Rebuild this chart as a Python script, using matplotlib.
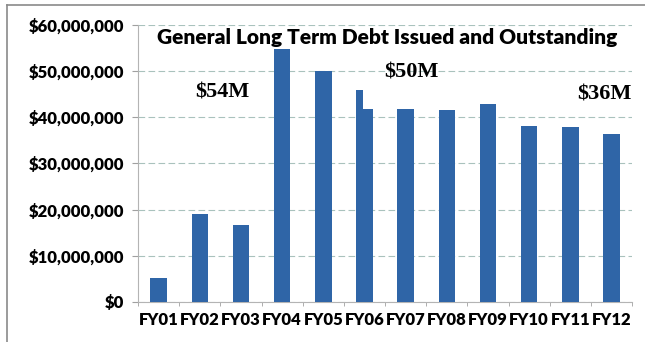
import numpy as np
from matplotlib import pyplot as plt
from matplotlib.lines import Line2D
from matplotlib.ticker import FuncFormatter

# Fiscal years and outstanding general long term debt (in millions of dollars)
categories = ['FY01', 'FY02', 'FY03', 'FY04', 'FY05', 'FY06',
              'FY07', 'FY08', 'FY09', 'FY10', 'FY11', 'FY12']
debt_millions = [5.3, 19.0, 16.7, 54.7, 50.0, 41.9,
                 41.8, 41.6, 42.8, 38.1, 37.9, 36.3]

# FY06 peaked mid-year before falling back
fy06_peak_millions = [45.9]

callouts = ['$54M', '$50M', '$36M']
callout_x = [1.54, 6.15, 10.83]
callout_y = [45.3, 49.6, 45.0]

y_ticks = [0, 10, 20, 30, 40, 50, 60]

BAR_COLOR = '#2f65a7'
GRID_COLOR = '#a9c2bd'
SANS = 'Lato'
SERIF = 'Liberation Serif'


def money_fmt(v, pos):
    return f"${v * 1e6:,.0f}"


def main():
    fig = plt.figure(figsize=(6.45, 3.42), dpi=100)
    ax = fig.add_axes([0.214, 0.117, 0.766, 0.81])

    x = np.arange(len(categories))
    width = 0.4
    ax.bar(x, debt_millions, width, color=BAR_COLOR, zorder=3)

    # narrow step on the left half of FY06
    i06 = categories.index('FY06')
    step_w = 0.17
    ax.bar(x[i06] - width / 2, fy06_peak_millions, step_w, align='edge',
           color=BAR_COLOR, zorder=3)

    ax.set_xlim(-0.5, len(categories) - 0.5)
    ax.set_ylim(0, 60)
    ax.set_yticks(y_ticks)
    ax.yaxis.set_major_formatter(FuncFormatter(money_fmt))
    ax.set_xticks(x)
    ax.set_xticklabels(categories)

    # small boundary ticks between categories, Excel style
    ax.set_xticks(np.arange(-0.5, len(categories)), minor=True)
    ax.tick_params(axis='x', which='major', length=0, pad=7)
    ax.tick_params(axis='x', which='minor', length=3, color='#a0a0a0')
    ax.tick_params(axis='y', length=4, color='#a0a0a0', pad=6)

    for lbl in ax.get_xticklabels() + ax.get_yticklabels():
        lbl.set_fontfamily(SANS)
        lbl.set_fontweight('heavy')
        lbl.set_fontsize(12)

    ax.grid(axis='y', color=GRID_COLOR, linewidth=0.8,
            linestyle=(0, (6, 3)), zorder=0)
    for side in ['top', 'right']:
        ax.spines[side].set_visible(False)
    ax.spines['left'].set_color('#b4b4b4')
    ax.spines['bottom'].set_color('#b4b4b4')

    ax.text(0.504, 0.955, 'General Long Term Debt Issued and Outstanding',
            transform=ax.transAxes, ha='center', va='center',
            fontsize=15, fontweight='heavy', fontfamily=SANS, zorder=5)

    for txt, cx, cy in zip(callouts, callout_x, callout_y):
        ax.text(cx, cy, txt, ha='center', va='center', fontsize=16,
                fontweight='bold', fontfamily=SERIF, zorder=5)

    # frame lines along the left and top edges
    fig.add_artist(Line2D([0.011, 0.011], [0, 0.985], transform=fig.transFigure,
                          color='#8a8a8a', linewidth=1.2))
    fig.add_artist(Line2D([0.011, 1.0], [0.985, 0.985], transform=fig.transFigure,
                          color='#8a8a8a', linewidth=1.2))

    plt.savefig('out.png', dpi=100)


if __name__ == "__main__":
    main()
